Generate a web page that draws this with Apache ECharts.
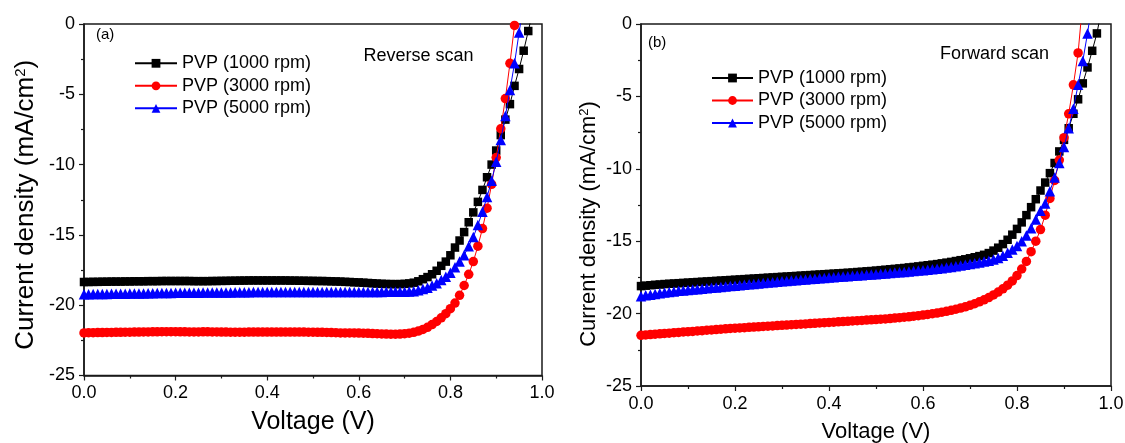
<!DOCTYPE html>
<html>
<head>
<meta charset="utf-8">
<script src="https://cdn.jsdelivr.net/npm/echarts@6/dist/echarts.min.js"></script>
<style>
  html, body { margin: 0; padding: 0; background: #ffffff; }
  #chart { width: 1125px; height: 443px; }
</style>
</head>
<body>
<div id="chart"></div>
<script>
// Bias voltage sweep (V), 10 mV steps
const voltage = [
  0.00, 0.01, 0.02, 0.03, 0.04, 0.05, 0.06, 0.07, 0.08, 0.09,
  0.10, 0.11, 0.12, 0.13, 0.14, 0.15, 0.16, 0.17, 0.18, 0.19,
  0.20, 0.21, 0.22, 0.23, 0.24, 0.25, 0.26, 0.27, 0.28, 0.29,
  0.30, 0.31, 0.32, 0.33, 0.34, 0.35, 0.36, 0.37, 0.38, 0.39,
  0.40, 0.41, 0.42, 0.43, 0.44, 0.45, 0.46, 0.47, 0.48, 0.49,
  0.50, 0.51, 0.52, 0.53, 0.54, 0.55, 0.56, 0.57, 0.58, 0.59,
  0.60, 0.61, 0.62, 0.63, 0.64, 0.65, 0.66, 0.67, 0.68, 0.69,
  0.70, 0.71, 0.72, 0.73, 0.74, 0.75, 0.76, 0.77, 0.78, 0.79,
  0.80, 0.81, 0.82, 0.83, 0.84, 0.85, 0.86, 0.87, 0.88, 0.89,
  0.90, 0.91, 0.92, 0.93, 0.94, 0.95, 0.96, 0.97, 0.98
];

const seriesNames = ['PVP (1000 rpm)', 'PVP (3000 rpm)', 'PVP (5000 rpm)'];

// (a) Reverse scan current density (mA/cm2)
const reverse1000 = [
  -18.35, -18.35, -18.34, -18.34, -18.33, -18.33, -18.32, -18.32, -18.32, -18.31,
  -18.31, -18.30, -18.30, -18.30, -18.29, -18.29, -18.29, -18.28, -18.28, -18.28,
  -18.28, -18.28, -18.28, -18.28, -18.29, -18.29, -18.29, -18.29, -18.28, -18.28,
  -18.27, -18.27, -18.26, -18.26, -18.25, -18.25, -18.24, -18.24, -18.24, -18.24,
  -18.24, -18.24, -18.24, -18.24, -18.24, -18.25, -18.25, -18.26, -18.26, -18.27,
  -18.27, -18.28, -18.28, -18.29, -18.30, -18.31, -18.32, -18.34, -18.35, -18.37,
  -18.38, -18.40, -18.42, -18.44, -18.46, -18.48, -18.49, -18.50, -18.50, -18.50,
  -18.48, -18.45, -18.40, -18.30, -18.15, -18.00, -17.80, -17.55, -17.20, -16.90,
  -16.45, -15.90, -15.40, -14.80, -14.10, -13.40, -12.65, -11.80, -10.90, -10.00,
  -9.00, -7.90, -6.80, -5.70, -4.40, -3.20, -1.90, -0.50, 0.90
];
const reverse3000 = [
  -21.97, -21.96, -21.96, -21.95, -21.95, -21.94, -21.94, -21.93, -21.93, -21.92,
  -21.92, -21.91, -21.91, -21.90, -21.90, -21.89, -21.89, -21.88, -21.88, -21.88,
  -21.88, -21.89, -21.89, -21.90, -21.90, -21.90, -21.89, -21.89, -21.90, -21.90,
  -21.91, -21.91, -21.92, -21.92, -21.92, -21.92, -21.91, -21.91, -21.91, -21.91,
  -21.91, -21.91, -21.91, -21.91, -21.91, -21.91, -21.91, -21.91, -21.91, -21.92,
  -21.92, -21.93, -21.93, -21.94, -21.95, -21.96, -21.97, -21.97, -21.97, -21.97,
  -21.98, -21.99, -22.00, -22.02, -22.03, -22.04, -22.05, -22.06, -22.06, -22.05,
  -22.03, -21.99, -21.93, -21.84, -21.72, -21.57, -21.38, -21.16, -20.90, -20.60,
  -20.25, -19.85, -19.30, -18.60, -17.80, -16.90, -15.80, -14.55, -13.10, -11.40,
  -9.50, -7.45, -5.30, -2.80, -0.10, 2.60
];
const reverse5000 = [
  -19.22, -19.22, -19.21, -19.21, -19.20, -19.20, -19.19, -19.19, -19.18, -19.18,
  -19.17, -19.17, -19.16, -19.16, -19.15, -19.15, -19.14, -19.14, -19.13, -19.13,
  -19.12, -19.12, -19.12, -19.11, -19.11, -19.11, -19.10, -19.10, -19.10, -19.09,
  -19.09, -19.09, -19.09, -19.08, -19.08, -19.08, -19.08, -19.07, -19.07, -19.07,
  -19.07, -19.07, -19.07, -19.06, -19.06, -19.06, -19.06, -19.06, -19.06, -19.06,
  -19.06, -19.06, -19.06, -19.06, -19.06, -19.06, -19.06, -19.06, -19.06, -19.06,
  -19.06, -19.06, -19.06, -19.06, -19.06, -19.06, -19.05, -19.05, -19.05, -19.04,
  -19.04, -19.03, -19.00, -18.93, -18.85, -18.75, -18.60, -18.43, -18.20, -17.98,
  -17.70, -17.30, -16.90, -16.45, -15.80, -15.15, -14.30, -13.35, -12.30, -11.15,
  -9.80, -8.25, -6.55, -4.70, -2.80, -0.60, 1.50
];

// (b) Forward scan current density (mA/cm2)
const forward1000 = [
  -18.10, -18.07, -18.04, -18.01, -17.99, -17.96, -17.94, -17.92, -17.90, -17.88,
  -17.86, -17.84, -17.82, -17.80, -17.78, -17.76, -17.74, -17.72, -17.70, -17.68,
  -17.66, -17.64, -17.62, -17.60, -17.58, -17.56, -17.54, -17.52, -17.50, -17.48,
  -17.46, -17.44, -17.42, -17.40, -17.38, -17.36, -17.34, -17.32, -17.30, -17.28,
  -17.26, -17.24, -17.22, -17.20, -17.18, -17.16, -17.13, -17.11, -17.08, -17.06,
  -17.03, -17.00, -16.97, -16.94, -16.91, -16.88, -16.85, -16.81, -16.78, -16.74,
  -16.70, -16.66, -16.62, -16.58, -16.53, -16.48, -16.43, -16.37, -16.31, -16.25,
  -16.18, -16.11, -16.03, -15.94, -15.82, -15.65, -15.45, -15.20, -14.90, -14.55,
  -14.15, -13.70, -13.20, -12.65, -12.10, -11.50, -10.95, -10.30, -9.60, -8.80,
  -8.00, -7.20, -6.20, -5.20, -4.10, -3.00, -1.85, -0.65, 1.00
];
const forward3000 = [
  -21.50, -21.47, -21.45, -21.42, -21.40, -21.37, -21.35, -21.32, -21.30, -21.27,
  -21.25, -21.23, -21.20, -21.18, -21.15, -21.13, -21.10, -21.08, -21.05, -21.03,
  -21.01, -20.99, -20.97, -20.95, -20.93, -20.91, -20.89, -20.87, -20.85, -20.83,
  -20.81, -20.79, -20.77, -20.75, -20.73, -20.71, -20.69, -20.67, -20.65, -20.63,
  -20.61, -20.59, -20.57, -20.55, -20.53, -20.51, -20.49, -20.47, -20.45, -20.43,
  -20.41, -20.39, -20.37, -20.34, -20.31, -20.28, -20.25, -20.22, -20.18, -20.14,
  -20.10, -20.06, -20.01, -19.96, -19.90, -19.84, -19.77, -19.70, -19.62, -19.53,
  -19.43, -19.32, -19.19, -19.05, -18.89, -18.71, -18.51, -18.29, -18.04, -17.74,
  -17.37, -16.92, -16.40, -15.72, -15.00, -14.20, -13.20, -12.05, -10.80, -9.40,
  -7.85, -6.20, -4.20, -2.00, 1.60
];
const forward5000 = [
  -18.80, -18.74, -18.69, -18.64, -18.59, -18.55, -18.51, -18.47, -18.43, -18.40,
  -18.37, -18.34, -18.31, -18.28, -18.25, -18.22, -18.19, -18.16, -18.13, -18.10,
  -18.07, -18.04, -18.01, -17.98, -17.95, -17.92, -17.89, -17.86, -17.83, -17.80,
  -17.77, -17.74, -17.71, -17.69, -17.66, -17.64, -17.61, -17.59, -17.56, -17.54,
  -17.51, -17.49, -17.46, -17.44, -17.42, -17.39, -17.37, -17.35, -17.32, -17.30,
  -17.28, -17.25, -17.23, -17.20, -17.17, -17.15, -17.12, -17.09, -17.06, -17.03,
  -17.00, -16.97, -16.93, -16.90, -16.86, -16.82, -16.78, -16.73, -16.68, -16.63,
  -16.57, -16.52, -16.47, -16.41, -16.35, -16.27, -16.16, -16.00, -15.80, -15.58,
  -15.33, -15.00, -14.60, -14.10, -13.50, -12.90, -12.40, -11.55, -10.60, -9.60,
  -8.50, -7.20, -5.85, -4.20, -2.55, -0.65, 1.50
];

const xTicks = [0, 0.2, 0.4, 0.6, 0.8, 1.0];
const yTicks = [-25, -20, -15, -10, -5, 0];

const FONT = 'Arial, "Liberation Sans", sans-serif';
const INK = '#1a1a1a';
const colors = ['#000000', '#ff0000', '#0000ff'];
const symbols = ['rect', 'circle', 'triangle'];
const symbolSizes = [8.5, 9.5, 10.5];

function makeXAxis(gridIndex, nameSize, nameGap, labelMargin) {
  return {
    type: 'value', gridIndex: gridIndex,
    min: xTicks[0], max: xTicks[xTicks.length - 1], interval: xTicks[1] - xTicks[0],
    name: 'Voltage (V)', nameLocation: 'middle', nameGap: nameGap,
    nameTextStyle: { fontSize: nameSize, color: '#000', fontFamily: FONT },
    axisLine: { show: true, onZero: false, lineStyle: { color: INK, width: 1.5 } },
    axisTick: { show: true, inside: false, length: 5, lineStyle: { color: INK, width: 1.2 } },
    minorTick: { show: true, splitNumber: 2, length: 3, lineStyle: { color: INK, width: 1.2 } },
    splitLine: { show: false },
    axisLabel: { fontSize: 18, color: '#000', fontFamily: FONT, margin: labelMargin,
                 formatter: function (v) { return v.toFixed(1); } }
  };
}

// namePad shifts the rotated title along the axis (extra space after the text end)
function makeYAxis(gridIndex, nameSize, nameGap, namePad) {
  return {
    type: 'value', gridIndex: gridIndex,
    min: yTicks[0], max: yTicks[yTicks.length - 1], interval: yTicks[1] - yTicks[0],
    name: 'Current density (mA/cm{sup|2})', nameLocation: 'middle', nameGap: nameGap,
    nameTextStyle: { fontSize: nameSize, color: '#000', fontFamily: FONT,
      padding: [0, namePad, 0, 0],
      rich: { sup: { fontSize: Math.round(nameSize * 0.58), fontFamily: FONT, color: '#000',
                     verticalAlign: 'top', lineHeight: Math.round(nameSize * 0.6) } } },
    axisLine: { show: true, onZero: false, lineStyle: { color: INK, width: 1.5 } },
    axisTick: { show: true, inside: false, length: 5, lineStyle: { color: INK, width: 1.2 } },
    minorTick: { show: true, splitNumber: 2, length: 3, lineStyle: { color: INK, width: 1.2 } },
    splitLine: { show: false },
    axisLabel: { fontSize: 18, color: '#000', fontFamily: FONT, margin: 9 }
  };
}

function makeSeries(k, gridIndex, values) {
  return {
    name: seriesNames[k], type: 'line',
    xAxisIndex: gridIndex, yAxisIndex: gridIndex,
    data: values.map(function (j, i) { return [voltage[i], j]; }),
    symbol: symbols[k], symbolSize: symbolSizes[k], showSymbol: true,
    lineStyle: { color: colors[k], width: 1 },
    itemStyle: { color: colors[k] },
    clip: true, z: 2 + k, animation: false
  };
}

function makeLegend(left, top, itemWidth) {
  return {
    orient: 'vertical', left: left, top: top, padding: 0,
    itemWidth: itemWidth, itemHeight: 11, itemGap: 4.5,
    data: seriesNames, selectedMode: false,
    textStyle: { fontSize: 18, color: '#000', fontFamily: FONT, lineHeight: 18 }
  };
}

const chart = echarts.init(document.getElementById('chart'), null, { renderer: 'canvas' });
chart.setOption({
  animation: false,
  backgroundColor: '#ffffff',
  grid: [
    { left: 84, top: 24, width: 458, height: 351.5, show: true, borderColor: INK, borderWidth: 1.5,
      outerBoundsMode: 'none', containLabel: false },
    { left: 641, top: 24, width: 470, height: 362, show: true, borderColor: INK, borderWidth: 1.5,
      outerBoundsMode: 'none', containLabel: false }
  ],
  xAxis: [makeXAxis(0, 25, 34, 9), makeXAxis(1, 22, 35, 9)],
  yAxis: [makeYAxis(0, 26, 45, 10), makeYAxis(1, 22, 41, 38)],
  legend: [makeLegend(134, 54.3, 42), makeLegend(711, 69, 41)],
  graphic: [
    { type: 'text', left: 96, top: 27.5, style: { text: '(a)', fontSize: 15, fill: '#000', fontFamily: FONT } },
    { type: 'text', left: 363.5, top: 47.5, style: { text: 'Reverse scan', fontSize: 18, fill: '#000', fontFamily: FONT } },
    { type: 'text', left: 648, top: 35.5, style: { text: '(b)', fontSize: 15, fill: '#000', fontFamily: FONT } },
    { type: 'text', left: 940, top: 45.5, style: { text: 'Forward scan', fontSize: 18, fill: '#000', fontFamily: FONT } }
  ],
  series: [
    makeSeries(0, 0, reverse1000),
    makeSeries(1, 0, reverse3000),
    makeSeries(2, 0, reverse5000),
    makeSeries(0, 1, forward1000),
    makeSeries(1, 1, forward3000),
    makeSeries(2, 1, forward5000)
  ]
});
</script>
</body>
</html>
